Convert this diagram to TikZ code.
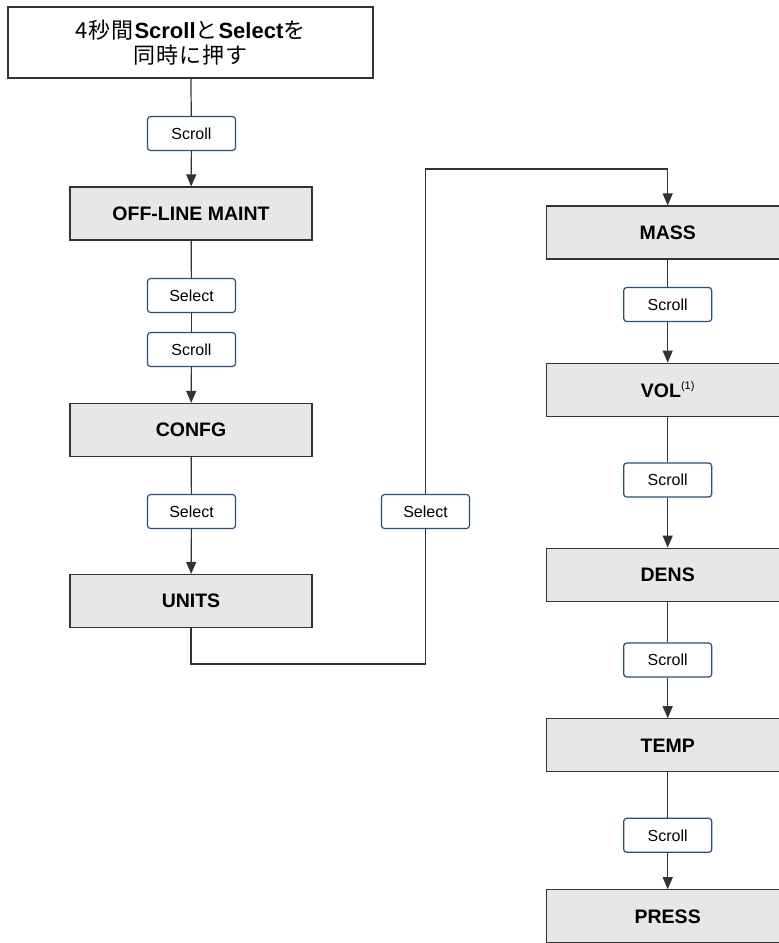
\documentclass[tikz,border=0pt]{standalone}
\usepackage{fontspec}
\setmainfont{Liberation Sans}
\newfontfamily\jpfont[LetterSpace=4]{Noto Sans CJK JP}
\usetikzlibrary{arrows.meta}
\definecolor{menugray}{HTML}{E6E7E8}
\definecolor{keyblue}{HTML}{2B4C7E}
\definecolor{linegray}{HTML}{333333}
\begin{document}
\begin{tikzpicture}[x=1pt, y=-1pt, line width=1.2pt,
  menu/.style={draw=linegray, fill=menugray, minimum width=242pt, minimum height=53pt, inner sep=0pt, font=\fontsize{19.5}{22}\selectfont\bfseries},
  key/.style={draw=keyblue, fill=white, rounded corners=3pt, minimum width=88pt, minimum height=34pt, inner sep=0pt, font=\fontsize{16}{18}\selectfont},
  arr/.style={-{Triangle[length=12pt,width=10pt]}}]
\useasboundingbox (0,0) rectangle (779,943);
\clip (0,0) rectangle (779,943);
% start
\node[draw=linegray, minimum width=365pt, minimum height=71pt, align=center, font=\fontsize{22}{25}\selectfont] (start) at (190.5,42.5)
  {{\jpfont 4秒間}\textbf{Scroll}{\jpfont と}\textbf{Select}{\jpfont を}\\ {\jpfont 同時に押す}};
% left column
\node[key] (scrollA) at (191.5,133.5) {Scroll};
\node[menu] (offline) at (191,213.5) {OFF-LINE MAINT};
\node[key] (selectA) at (191.5,295.5) {Select};
\node[key] (scrollB) at (191.5,349.5) {Scroll};
\node[menu] (confg) at (191,430) {CONFG};
\node[key] (selectB) at (191.5,511.5) {Select};
\node[menu] (units) at (191,601) {UNITS};
\node[key] (selectC) at (425.5,511.5) {Select};
% right column
\node[menu] (mass) at (667.7,232.5) {MASS};
\node[key] (scrollC) at (667.7,304.5) {Scroll};
\node[menu] (vol) at (667.7,389.7) {VOL\raisebox{8pt}{\fontsize{11}{11}\selectfont\mdseries(1)}};
\node[key] (scrollD) at (667.7,480) {Scroll};
\node[menu] (dens) at (667.7,574.7) {DENS};
\node[key] (scrollE) at (667.7,660) {Scroll};
\node[menu] (temp) at (667.7,745.3) {TEMP};
\node[key] (scrollF) at (667.7,835.3) {Scroll};
\node[menu] (press) at (667.7,916.3) {PRESS};
\coordinate (low) at (425.5,664);
\coordinate (high) at (425.5,169);
% connectors
\begin{scope}[draw=linegray]
\draw (start) -- (scrollA);
\draw[arr] (scrollA) -- (offline);
\draw (offline) -- (selectA);
\draw (selectA) -- (scrollB);
\draw[arr] (scrollB) -- (confg);
\draw (confg) -- (selectB);
\draw[arr] (selectB) -- (units);
\draw (units) |- (low) -- (selectC);
\draw[arr] (selectC) -- (high) -| (mass);
\draw (mass) -- (scrollC);
\draw[arr] (scrollC) -- (vol);
\draw (vol) -- (scrollD);
\draw[arr] (scrollD) -- (dens);
\draw (dens) -- (scrollE);
\draw[arr] (scrollE) -- (temp);
\draw (temp) -- (scrollF);
\draw[arr] (scrollF) -- (press);
\end{scope}
\end{tikzpicture}
\end{document}
